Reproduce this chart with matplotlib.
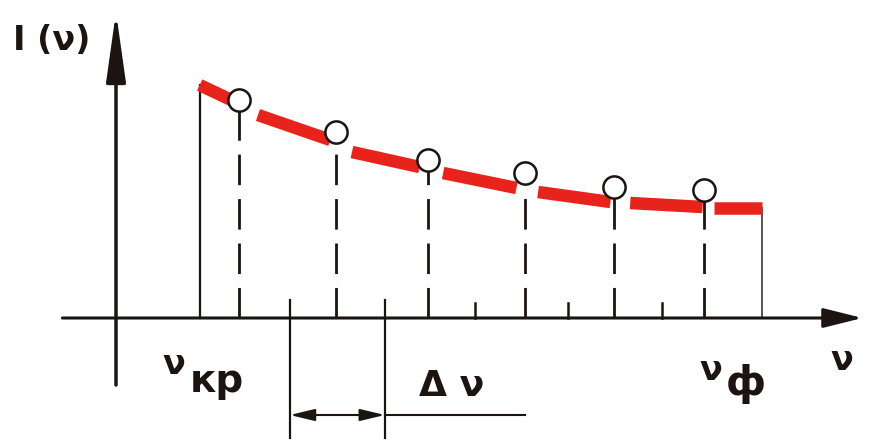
import matplotlib
matplotlib.use('Agg')
import matplotlib.pyplot as plt

# red curve I(nu), drawn as pieces with gaps at the sample points
nu_curve = [0.89, 1.27, 1.51, 2.28, 2.51, 3.23, 3.48, 4.26, 4.49, 5.26, 5.47, 6.24, 6.36, 6.87]
I_curve = [2.33, 2.16, 2.03, 1.78, 1.66, 1.51, 1.45, 1.30, 1.26, 1.16, 1.15, 1.11, 1.10, 1.10]

# sample points (open circles) and their dashed drop lines
nu_nodes = [1.31, 2.34, 3.32, 4.35, 5.30, 6.26]
I_nodes = [2.18, 1.86, 1.58, 1.45, 1.31, 1.28]

# small ticks on the nu axis between samples
nu_ticks = [3.82, 4.81, 5.81]

nu_kr = 0.89
nu_f = 6.87
I_kr = 2.33
I_f = 1.10

# Delta nu interval
dnu_left = 1.85
dnu_right = 2.86

red = '#e8231c'
ink = '#1b1410'

fig = plt.figure(figsize=(8.75, 4.47), dpi=100)
ax = fig.add_axes([0, 0, 1, 1])
ax.set_xlim(-1.234, 8.074)
ax.set_ylim(-1.29, 3.18)
ax.axis('off')

# axes with arrows
ax.annotate('', xy=(0, 3.06), xytext=(0, -0.67),
            arrowprops=dict(arrowstyle='-|>,head_length=0.85,head_width=0.12',
                            mutation_scale=50, lw=2.5, color=ink, shrinkA=0, shrinkB=0))
ax.annotate('', xy=(7.94, 0), xytext=(-0.57, 0),
            arrowprops=dict(arrowstyle='-|>,head_length=0.6,head_width=0.15',
                            mutation_scale=40, lw=2.2, color=ink, shrinkA=0, shrinkB=0))

# boundaries of the spectrum
ax.plot([nu_kr, nu_kr], [0, I_kr], color=ink, lw=1.6)
ax.plot([nu_f, nu_f], [0, I_f], color='#555555', lw=1.4)

# dashed drop lines from samples
for x, y in zip(nu_nodes, I_nodes):
    ax.plot([x, x], [0, y - 0.1], color=ink, lw=2, linestyle=(0, (11, 5)))

# red curve pieces
for i in range(0, len(nu_curve), 2):
    ax.plot(nu_curve[i:i + 2], I_curve[i:i + 2], color=red, lw=9,
            solid_capstyle='butt')

# open circles
ax.plot(nu_nodes, I_nodes, 'o', ms=16, mfc='white', mec=ink, mew=1.8, ls='none')

# small ticks
for x in nu_ticks:
    ax.plot([x, x], [0, 0.15], color=ink, lw=1.8)

# Delta nu marks
for x in [dnu_left, dnu_right]:
    ax.plot([x, x], [0.18, -1.2], color=ink, lw=1.6)
ax.annotate('', xy=(dnu_left, -0.97), xytext=(dnu_right, -0.97),
            arrowprops=dict(arrowstyle='<|-|>,head_length=0.5,head_width=0.12',
                            mutation_scale=30, lw=1.5, color=ink, shrinkA=0, shrinkB=0))
ax.plot([dnu_right, 4.35], [-0.97, -0.97], color=ink, lw=1.5)

# labels
lab = dict(color=ink, ha='center', va='center', fontweight='bold')
ax.text(-0.68, 2.78, 'I (ν)', fontsize=24, **lab)
ax.text(3.57, -0.68, 'Δ ν', fontsize=26, **lab)
ax.text(7.72, -0.42, 'ν', fontsize=24, **lab)
ax.text(0.62, -0.46, 'ν', fontsize=24, **lab)
ax.text(1.07, -0.63, 'кр', fontsize=28, **lab)
ax.text(6.33, -0.53, 'ν', fontsize=24, **lab)
ax.text(6.70, -0.66, 'ф', fontsize=29, **lab)

fig.savefig('out.png', dpi=100)
